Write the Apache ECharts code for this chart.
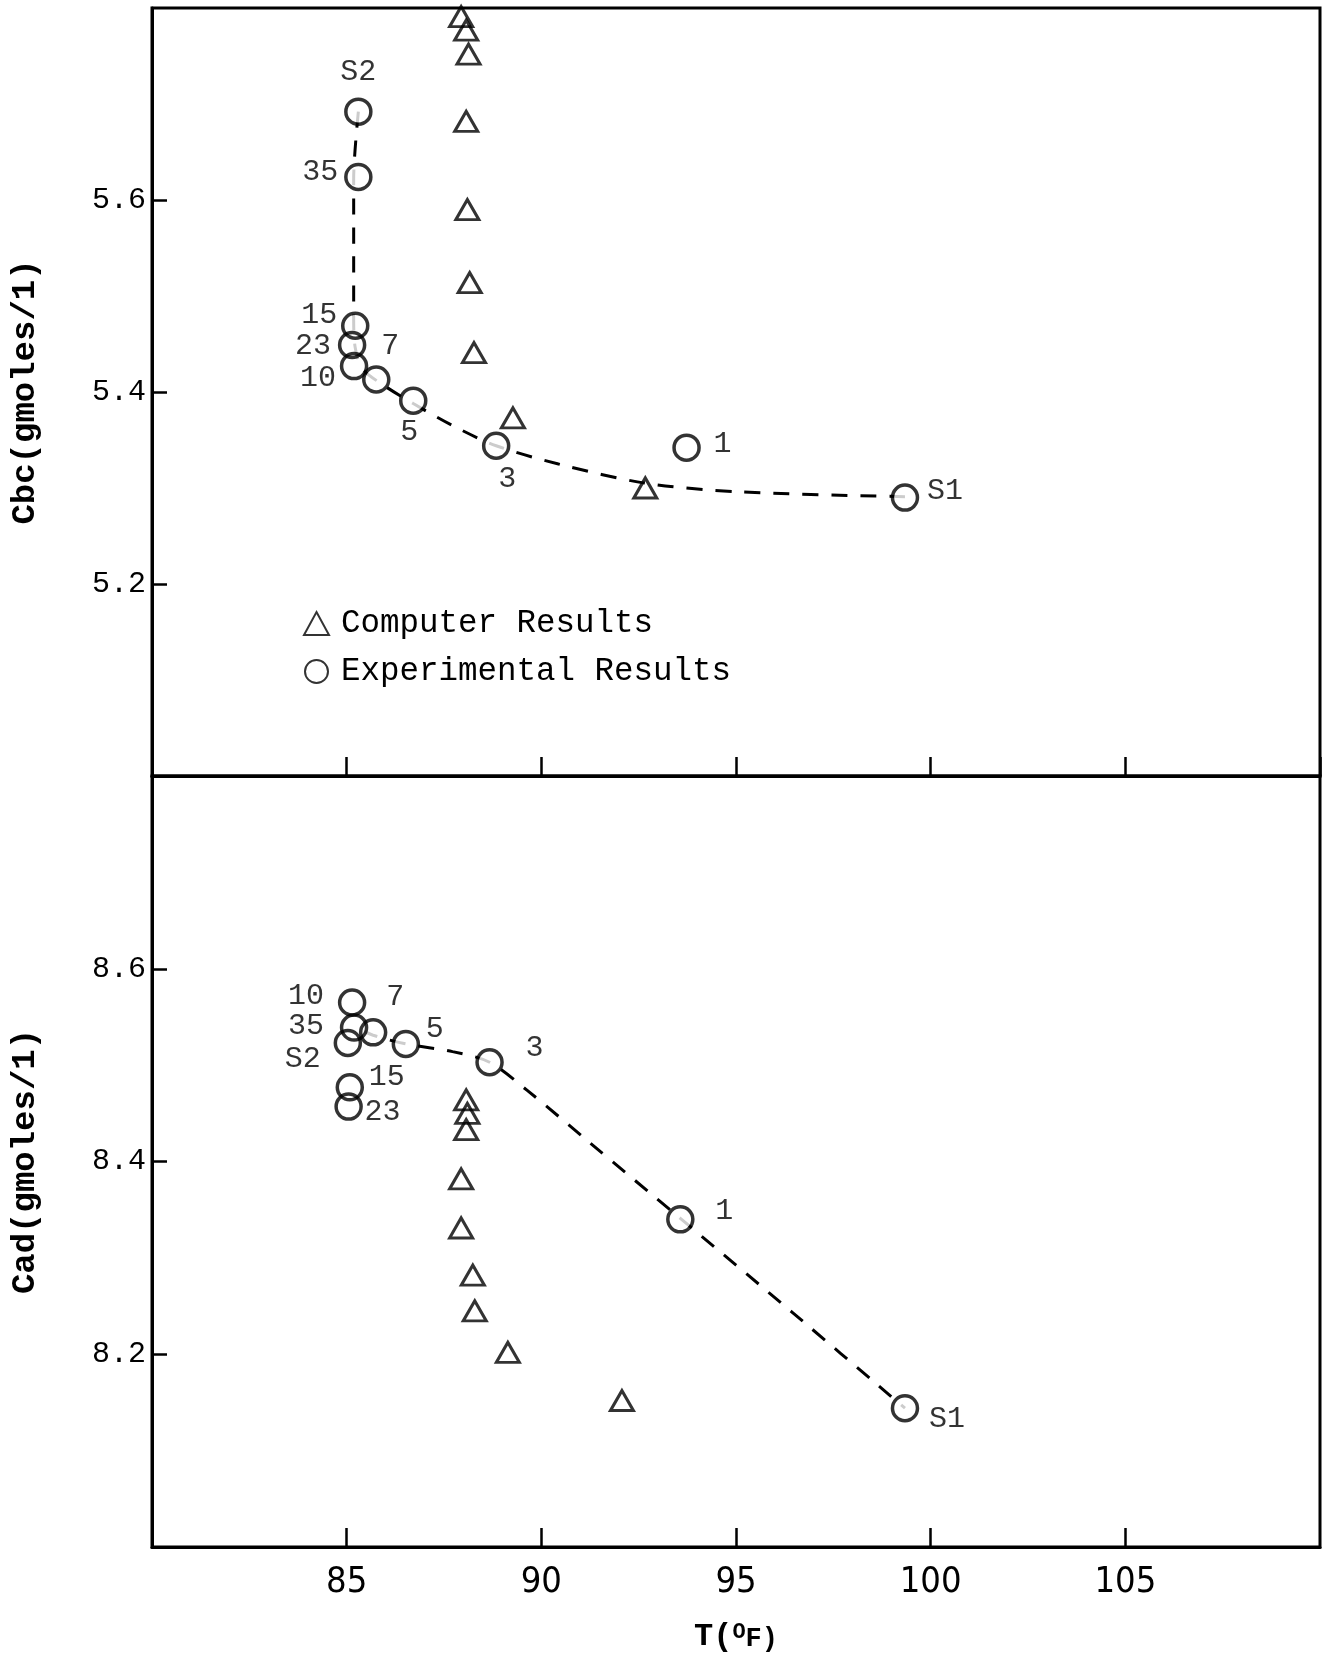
<!DOCTYPE html>
<html><head><meta charset="utf-8">
<script src="https://cdn.jsdelivr.net/npm/echarts@6/dist/echarts.min.js"></script>
<style>html,body{margin:0;padding:0;background:#fff}#c{width:1328px;height:1658px}</style>
</head><body><div id="c"></div>
<script>
// ---- data ----
const xTickValues = [85, 90, 95, 100, 105];
const expLabels = ['S2', '35', '15', '23', '10', '7', '5', '3', '1', 'S1'];

// Top panel: Cbc
const cbcExpT = [85.30, 85.30, 85.22, 85.14, 85.19, 85.76, 86.71, 88.84, 93.73, 99.34];
const cbcExpV = [5.692, 5.624, 5.469, 5.449, 5.427, 5.413, 5.391, 5.344, 5.342, 5.290];
const cbcCompT = [87.94, 88.07, 88.13, 88.07, 88.10, 88.16, 88.27, 89.27, 92.67];
const cbcCompV = [5.791, 5.777, 5.752, 5.682, 5.590, 5.514, 5.441, 5.373, 5.300];
const cbcCurveT = [85.30, 85.18, 85.18, 85.18, 85.22, 85.41, 85.95, 86.71, 87.72, 88.84, 90.44, 92.67, 95.07, 99.34];
const cbcCurveV = [5.692, 5.622, 5.545, 5.479, 5.446, 5.424, 5.407, 5.388, 5.365, 5.344, 5.325, 5.305, 5.296, 5.291];

// Bottom panel: Cad
const cadExpT = [85.03, 85.19, 85.08, 85.05, 85.14, 85.68, 86.52, 88.67, 93.57, 99.34];
const cadExpV = [8.523, 8.539, 8.477, 8.457, 8.565, 8.534, 8.522, 8.503, 8.340, 8.144];
const cadCompT = [88.07, 88.10, 88.07, 87.94, 87.94, 88.24, 88.29, 89.14, 92.07];
const cadCompV = [8.464, 8.450, 8.433, 8.382, 8.331, 8.282, 8.245, 8.202, 8.152];
const cadCurveT = [85.41, 85.68, 86.52, 87.72, 88.67, 89.63, 91.26, 93.57, 96.43, 99.34];
const cadCurveV = [8.536, 8.531, 8.522, 8.514, 8.503, 8.474, 8.419, 8.341, 8.244, 8.144];

// ---- styling (label placement offsets, px) ----
const topLabelOffsets = [[0,-40],[-38,-5],[-36,-11],[-39,1],[-36,12],[14,-33],[-4,31],[11,33],[36,-4],[40,-7]];
const botLabelOffsets = [[-45,16],[-48,-1],[37,-10],[34,5],[-46,-6],[22,-35],[29,-15],[45,-14],[44,-8],[42,11]];

const MONO = "'Liberation Mono', 'DejaVu Sans Mono', monospace";
const NARROW = "'Liberation Sans Narrow', 'DejaVu Sans Condensed', 'Liberation Sans', sans-serif";
const zip = (a, b) => a.map((v, i) => [v, b[i]]);

function xAxisCfg(gridIndex, showLabels) {
  return {
    type: 'value', gridIndex, min: 80, max: 110, interval: 5,
    axisLine: { show: true, onZero: false, lineStyle: { color: '#000', width: 3 } },
    axisTick: { show: true, inside: true, length: 19, lineStyle: { color: '#000', width: 2.5 } },
    splitLine: { show: false },
    axisLabel: {
      show: showLabels, showMinLabel: false, showMaxLabel: false, margin: 18,
      color: '#000', fontFamily: NARROW, fontSize: 36,
      formatter: v => xTickValues.includes(v) ? String(v) : ''
    },
    name: showLabels ? '{t|T(}{s|O}{f|F)}' : '',
    nameLocation: 'middle', nameGap: 74,
    nameTextStyle: {
      rich: {
        t: { fontFamily: MONO, fontWeight: 'bold', fontSize: 32, color: '#000', verticalAlign: 'bottom' },
        s: { fontFamily: MONO, fontWeight: 'bold', fontSize: 22, color: '#000', verticalAlign: 'top' },
        f: { fontFamily: MONO, fontWeight: 'bold', fontSize: 27, color: '#000', verticalAlign: 'bottom' }
      }
    }
  };
}
function yAxisCfg(gridIndex, min, max, name) {
  return {
    type: 'value', gridIndex, min, max, interval: 0.2,
    axisLine: { show: true, onZero: false, lineStyle: { color: '#000', width: 3 } },
    axisTick: { show: true, inside: true, length: 15, lineStyle: { color: '#000', width: 2.5 } },
    splitLine: { show: false },
    axisLabel: {
      showMinLabel: false, showMaxLabel: false, margin: 6,
      color: '#000', fontFamily: MONO, fontSize: 30,
      formatter: v => v.toFixed(1)
    },
    name, nameLocation: 'middle', nameRotate: 90, nameGap: 110,
    nameTextStyle: { fontFamily: MONO, fontWeight: 'bold', fontSize: 34, color: '#000' }
  };
}

function panelSeries(idx, expT, expV, compT, compV, curveT, curveV, offsets) {
  const expData = zip(expT, expV);
  return [
    {
      type: 'line', xAxisIndex: idx, yAxisIndex: idx, z: 2,
      data: zip(curveT, curveV), smooth: 0.3, showSymbol: false, symbol: 'none',
      lineStyle: { color: '#000', width: 3, type: [16, 13] }, silent: true
    },
    {
      type: 'scatter', name: '_fill', xAxisIndex: idx, yAxisIndex: idx, z: 3,
      data: expData, symbol: 'circle', symbolSize: 22,
      itemStyle: { color: '#fff', borderWidth: 0 }, silent: true
    },
    {
      type: 'scatter', name: 'Experimental Results', xAxisIndex: idx, yAxisIndex: idx, z: 4,
      data: expData.map((p, i) => ({
        value: p,
        label: {
          show: true, formatter: expLabels[i], position: 'inside', offset: offsets[i],
          color: '#000', fontFamily: MONO, fontSize: 30
        }
      })),
      symbol: 'circle', symbolSize: 25,
      itemStyle: { color: 'rgba(255,255,255,0)', borderColor: '#000', borderWidth: 3.5 }
    },
    {
      type: 'scatter', name: 'Computer Results', xAxisIndex: idx, yAxisIndex: idx, z: 4,
      data: zip(compT, compV), symbol: 'triangle', symbolSize: [23, 20],
      itemStyle: { color: 'rgba(255,255,255,0)', borderColor: '#000', borderWidth: 3 }
    }
  ];
}

const chart = echarts.init(document.getElementById('c'), null, { renderer: 'canvas' });
chart.setOption({
  backgroundColor: '#fff',
  animation: false,
  textStyle: { fontFamily: MONO, color: '#000' },
  grid: [
    { left: 150, right: 8, top: 8, height: 768, show: true, borderColor: '#000', borderWidth: 3, backgroundColor: 'transparent' },
    { left: 150, right: 8, top: 776, height: 771, show: true, borderColor: '#000', borderWidth: 3, backgroundColor: 'transparent' }
  ],
  xAxis: [xAxisCfg(0, false), xAxisCfg(1, true)],
  yAxis: [yAxisCfg(0, 5.0, 5.8, 'Cbc(gmoles/1)'), yAxisCfg(1, 8.0, 8.8, 'Cad(gmoles/1)')],
  legend: {
    data: ['Computer Results', 'Experimental Results'],
    orient: 'vertical', left: 298, top: 602,
    itemWidth: 25, itemHeight: 23, itemGap: 15,
    selectedMode: false,
    textStyle: { fontFamily: MONO, fontSize: 32.5, color: '#000', padding: [0, 0, 0, 7] }
  },
  series: [
    ...panelSeries(0, cbcExpT, cbcExpV, cbcCompT, cbcCompV, cbcCurveT, cbcCurveV, topLabelOffsets),
    ...panelSeries(1, cadExpT, cadExpV, cadCompT, cadCompV, cadCurveT, cadCurveV, botLabelOffsets)
  ]
});
</script>
</body></html>
